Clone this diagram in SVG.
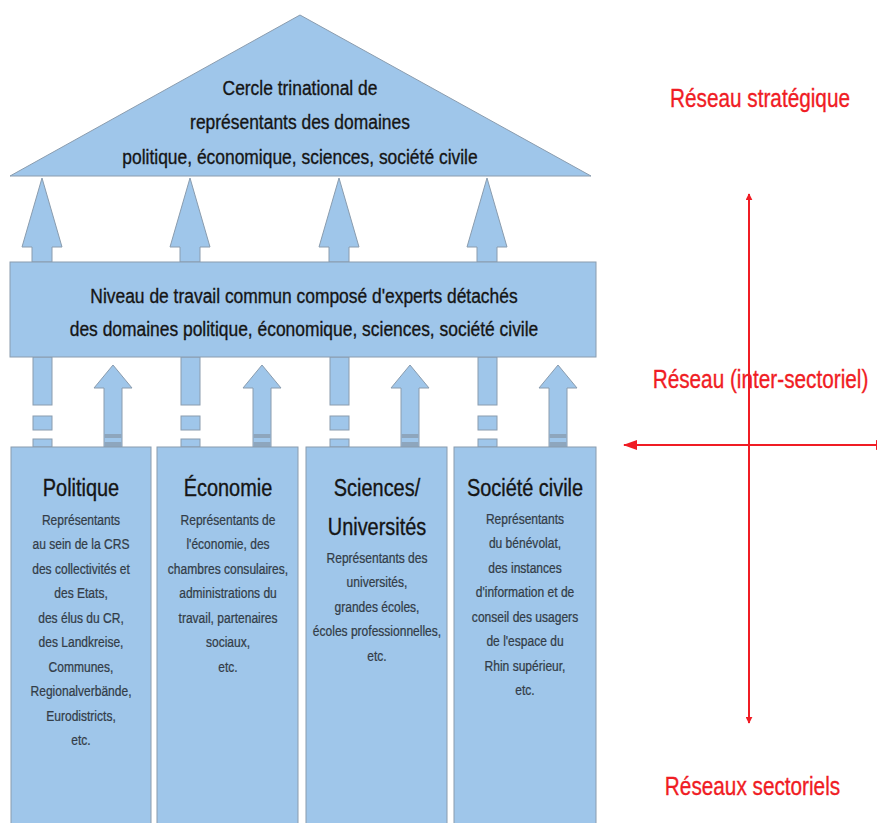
<svg xmlns="http://www.w3.org/2000/svg" width="877" height="823" viewBox="0 0 877 823">
<defs>
<style>
.blue{fill:#9fc6ea;stroke:#8a9cae;stroke-width:1}
.band{fill:#8ea6bd;stroke:none}
.t{font-family:"Liberation Sans",Arial,sans-serif;text-anchor:middle}
.main{font-size:21px;fill:#151515;stroke:#151515;stroke-width:0.35}
.head{font-size:24px;fill:#151515;stroke:#151515;stroke-width:0.35}
.body{font-size:14.5px;fill:#333d48;stroke:#333d48;stroke-width:0.25}
.red{font-size:25px;fill:#f01c24;stroke:#f01c24;stroke-width:0.35}
.rl{stroke:#f01c24;stroke-width:2;fill:none}
</style>
<marker id="ra" viewBox="0 0 10 10" refX="9" refY="5" markerWidth="7" markerHeight="7" orient="auto-start-reverse" markerUnits="userSpaceOnUse">
<path d="M0,0 L10,5 L0,10 z" fill="#f01c24"/>
</marker>
<marker id="rb" viewBox="0 0 14 10" refX="13" refY="5" markerWidth="14" markerHeight="10" orient="auto-start-reverse" markerUnits="userSpaceOnUse">
<path d="M0,0 L14,5 L0,10 z" fill="#f01c24"/>
</marker>
</defs>
<rect width="877" height="823" fill="#ffffff"/>

<g id="connectors">
<g id="up-arrows">
<polygon class="blue" points="42,178 62,247 52,247 52,262 32,262 32,247 22,247"/>
<polygon class="blue" points="190,178 210,247 200,247 200,262 180,262 180,247 170,247"/>
<polygon class="blue" points="339,178 359,247 349,247 349,262 329,262 329,247 319,247"/>
<polygon class="blue" points="487,178 507,247 497,247 497,262 477,262 477,247 467,247"/>
</g>
<g id="dashed-shafts">
<rect class="blue" x="33" y="357" width="19" height="48"/>
<rect class="blue" x="33" y="416" width="19" height="14"/>
<rect class="blue" x="33" y="439" width="19" height="8"/>
<rect class="blue" x="181" y="357" width="19" height="48"/>
<rect class="blue" x="181" y="416" width="19" height="14"/>
<rect class="blue" x="181" y="439" width="19" height="8"/>
<rect class="blue" x="330" y="357" width="19" height="48"/>
<rect class="blue" x="330" y="416" width="19" height="14"/>
<rect class="blue" x="330" y="439" width="19" height="8"/>
<rect class="blue" x="478" y="357" width="19" height="48"/>
<rect class="blue" x="478" y="416" width="19" height="14"/>
<rect class="blue" x="478" y="439" width="19" height="8"/>
</g>
<g id="small-arrows">
<polygon class="blue" points="113,365 132,388 122,388 122,447 104,447 104,388 94,388"/>
<rect class="band" x="104.5" y="434" width="17" height="4"/><rect class="band" x="104.5" y="442" width="17" height="5"/>
<polygon class="blue" points="262,365 281,388 271,388 271,447 253,447 253,388 243,388"/>
<rect class="band" x="253.5" y="434" width="17" height="4"/><rect class="band" x="253.5" y="442" width="17" height="5"/>
<polygon class="blue" points="410,365 429,388 419,388 419,447 401,447 401,388 391,388"/>
<rect class="band" x="401.5" y="434" width="17" height="4"/><rect class="band" x="401.5" y="442" width="17" height="5"/>
<polygon class="blue" points="558,365 577,388 567,388 567,447 549,447 549,388 539,388"/>
<rect class="band" x="549.5" y="434" width="17" height="4"/><rect class="band" x="549.5" y="442" width="17" height="5"/>
</g>
<g id="red-axes">
<line class="rl" x1="749" y1="194" x2="749" y2="723" marker-start="url(#ra)" marker-end="url(#ra)"/>
<line class="rl" x1="624" y1="445" x2="889" y2="445" marker-start="url(#rb)" marker-end="url(#rb)"/>
</g>
</g>

<g id="node-cercle">
<polygon class="blue" points="300,15 591,176 10,176"/>
<g transform="translate(300 0) scale(0.83 1)">
<text class="t main" x="0" y="95">Cercle trinational de</text>
<text class="t main" x="0" y="129">représentants des domaines</text>
<text class="t main" x="0" y="164">politique, économique, sciences, société civile</text>
</g>
</g>

<g id="node-niveau">
<rect class="blue" x="10" y="262" width="586" height="95"/>
<g transform="translate(304 0) scale(0.83 1)">
<text class="t main" x="0" y="303">Niveau de travail commun composé d'experts détachés</text>
<text class="t main" x="0" y="336">des domaines politique, économique, sciences, société civile</text>
</g>
</g>

<g id="node-politique">
<rect class="blue" x="11" y="447" width="140" height="390"/>
<g transform="translate(81 0) scale(0.83 1)">
<text class="t head" x="0" y="496">Politique</text>
<text class="t body" x="0" y="525">Représentants</text>
<text class="t body" x="0" y="549.5">au sein de la CRS</text>
<text class="t body" x="0" y="574">des collectivités et</text>
<text class="t body" x="0" y="598.5">des Etats,</text>
<text class="t body" x="0" y="623">des élus du CR,</text>
<text class="t body" x="0" y="647.5">des Landkreise,</text>
<text class="t body" x="0" y="672">Communes,</text>
<text class="t body" x="0" y="696.5">Regionalverbände,</text>
<text class="t body" x="0" y="721">Eurodistricts,</text>
<text class="t body" x="0" y="745.5">etc.</text>
</g>
</g>

<g id="node-economie">
<rect class="blue" x="157" y="447" width="141" height="390"/>
<g transform="translate(228 0) scale(0.83 1)">
<text class="t head" x="0" y="496">Économie</text>
<text class="t body" x="0" y="525">Représentants de</text>
<text class="t body" x="0" y="549.5">l'économie, des</text>
<text class="t body" x="0" y="574">chambres consulaires,</text>
<text class="t body" x="0" y="598.5">administrations du</text>
<text class="t body" x="0" y="623">travail, partenaires</text>
<text class="t body" x="0" y="647.5">sociaux,</text>
<text class="t body" x="0" y="672">etc.</text>
</g>
</g>

<g id="node-sciences">
<rect class="blue" x="306" y="447" width="141" height="390"/>
<g transform="translate(377 0) scale(0.83 1)">
<text class="t head" x="0" y="496">Sciences/</text>
<text class="t head" x="0" y="535">Universités</text>
<text class="t body" x="0" y="563">Représentants des</text>
<text class="t body" x="0" y="587.5">universités,</text>
<text class="t body" x="0" y="612">grandes écoles,</text>
<text class="t body" x="0" y="636.5">écoles professionnelles,</text>
<text class="t body" x="0" y="661">etc.</text>
</g>
</g>

<g id="node-societe">
<rect class="blue" x="454" y="447" width="142" height="390"/>
<g transform="translate(525 0) scale(0.83 1)">
<text class="t head" x="0" y="496">Société civile</text>
<text class="t body" x="0" y="524">Représentants</text>
<text class="t body" x="0" y="548.5">du bénévolat,</text>
<text class="t body" x="0" y="573">des instances</text>
<text class="t body" x="0" y="597.5">d'information et de</text>
<text class="t body" x="0" y="622">conseil des usagers</text>
<text class="t body" x="0" y="646.5">de l'espace du</text>
<text class="t body" x="0" y="671">Rhin supérieur,</text>
<text class="t body" x="0" y="695.5">etc.</text>
</g>
</g>

<g id="labels-red">
<g transform="translate(760 0) scale(0.83 1)">
<text class="t red" x="0" y="107">Réseau stratégique</text>
</g>
<g transform="translate(760.5 0) scale(0.83 1)">
<text class="t red" x="0" y="388">Réseau (inter-sectoriel)</text>
</g>
<g transform="translate(752.5 0) scale(0.83 1)">
<text class="t red" x="0" y="795">Réseaux sectoriels</text>
</g>
</g>
</svg>
